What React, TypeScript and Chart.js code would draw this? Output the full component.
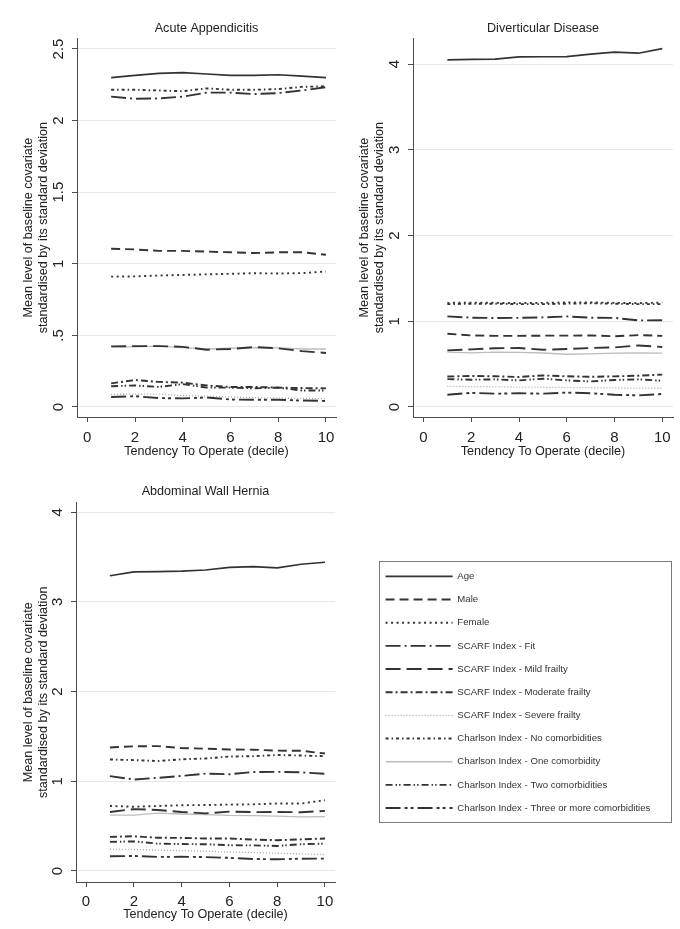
import React, { useEffect, useRef } from "react";
import { Chart, registerables } from "chart.js";

Chart.register(...registerables);

const FONT = "'Liberation Sans', Arial, Helvetica, sans-serif";
Chart.defaults.font.family = FONT;

// ---------------- data ----------------
const deciles = [1, 2, 3, 4, 5, 6, 7, 8, 9, 10];
const xTickValues = [0, 2, 4, 6, 8, 10];
const appendicitisYTicks = [0, 0.5, 1, 1.5, 2, 2.5];
const diverticularYTicks = [0, 1, 2, 3, 4];
const herniaYTicks = [0, 1, 2, 3, 4];

const seriesNames = [
  "Age",
  "Male",
  "Female",
  "SCARF Index - Fit",
  "SCARF Index - Mild frailty",
  "SCARF Index - Moderate frailty",
  "SCARF Index - Severe frailty",
  "Charlson Index - No comorbidities",
  "Charlson Index - One comorbidity",
  "Charlson Index - Two comorbidities",
  "Charlson Index - Three or more comorbidities",
];

const panelTitles = ["Acute Appendicitis", "Diverticular Disease", "Abdominal Wall Hernia"];
const xAxisTitle = "Tendency To Operate (decile)";
const yAxisTitle = ["Mean level of baseline covariate", "standardised by its standard deviation"];

// Acute Appendicitis
const appAge = [2.3, 2.315, 2.33, 2.335, 2.325, 2.315, 2.315, 2.32, 2.31, 2.3];
const appMale = [1.105, 1.1, 1.09, 1.09, 1.085, 1.08, 1.075, 1.08, 1.08, 1.063];
const appFemale = [0.91, 0.912, 0.918, 0.922, 0.926, 0.93, 0.934, 0.932, 0.935, 0.946];
const appFit = [2.167, 2.152, 2.155, 2.167, 2.195, 2.195, 2.185, 2.192, 2.21, 2.233];
const appMild = [0.423, 0.425, 0.425, 0.42, 0.4, 0.405, 0.418, 0.41, 0.39, 0.377];
const appModerate = [0.165, 0.188, 0.175, 0.17, 0.15, 0.14, 0.14, 0.135, 0.132, 0.13];
const appSevere = [0.088, 0.09, 0.09, 0.08, 0.075, 0.07, 0.065, 0.062, 0.06, 0.058];
const appNoComorb = [2.215, 2.215, 2.21, 2.205, 2.225, 2.215, 2.215, 2.22, 2.235, 2.24];
const appOneComorb = [0.42, 0.42, 0.425, 0.415, 0.405, 0.41, 0.415, 0.412, 0.405, 0.405];
const appTwoComorb = [0.145, 0.15, 0.14, 0.16, 0.135, 0.135, 0.13, 0.135, 0.115, 0.115];
const appThreeComorb = [0.07, 0.075, 0.062, 0.06, 0.066, 0.052, 0.05, 0.05, 0.045, 0.042];

// Diverticular Disease
const divAge = [4.05, 4.055, 4.058, 4.085, 4.087, 4.089, 4.117, 4.14, 4.128, 4.182];
const divMale = [0.855, 0.835, 0.83, 0.83, 0.832, 0.832, 0.835, 0.825, 0.838, 0.83];
const divFemale = [1.215, 1.218, 1.215, 1.212, 1.215, 1.22, 1.22, 1.215, 1.212, 1.218];
const divFit = [1.057, 1.042, 1.038, 1.04, 1.045, 1.057, 1.042, 1.04, 1.01, 1.012];
const divMild = [0.66, 0.672, 0.685, 0.688, 0.668, 0.676, 0.688, 0.695, 0.718, 0.7];
const divModerate = [0.355, 0.362, 0.358, 0.35, 0.368, 0.358, 0.352, 0.357, 0.365, 0.378];
const divSevere = [0.24, 0.238, 0.235, 0.232, 0.23, 0.228, 0.225, 0.222, 0.22, 0.218];
const divNoComorb = [1.2, 1.205, 1.205, 1.2, 1.2, 1.205, 1.21, 1.205, 1.2, 1.2];
const divOneComorb = [0.64, 0.632, 0.64, 0.638, 0.63, 0.615, 0.62, 0.628, 0.632, 0.628];
const divTwoComorb = [0.325, 0.318, 0.322, 0.31, 0.33, 0.31, 0.298, 0.315, 0.322, 0.306];
const divThreeComorb = [0.143, 0.165, 0.155, 0.16, 0.155, 0.168, 0.16, 0.143, 0.135, 0.152];

// Abdominal Wall Hernia
const herAge = [3.292, 3.335, 3.337, 3.343, 3.356, 3.384, 3.393, 3.38, 3.42, 3.442];
const herMale = [1.377, 1.39, 1.392, 1.37, 1.363, 1.355, 1.352, 1.342, 1.34, 1.31];
const herFemale = [0.725, 0.716, 0.724, 0.733, 0.735, 0.74, 0.743, 0.752, 0.752, 0.789];
const herFit = [1.057, 1.02, 1.038, 1.06, 1.085, 1.078, 1.103, 1.105, 1.1, 1.083];
const herMild = [0.658, 0.69, 0.68, 0.658, 0.642, 0.662, 0.656, 0.658, 0.655, 0.67];
const herModerate = [0.38, 0.387, 0.37, 0.369, 0.362, 0.362, 0.35, 0.343, 0.352, 0.362];
const herSevere = [0.242, 0.24, 0.232, 0.228, 0.22, 0.212, 0.205, 0.198, 0.19, 0.183];
const herNoComorb = [1.243, 1.236, 1.226, 1.245, 1.254, 1.276, 1.28, 1.293, 1.287, 1.28];
const herOneComorb = [0.622, 0.622, 0.645, 0.635, 0.628, 0.62, 0.618, 0.612, 0.603, 0.605];
const herTwoComorb = [0.324, 0.33, 0.305, 0.3, 0.298, 0.287, 0.285, 0.279, 0.298, 0.305];
const herThreeComorb = [0.164, 0.167, 0.157, 0.158, 0.155, 0.146, 0.134, 0.13, 0.137, 0.138];

const appendicitisSeries = [appAge, appMale, appFemale, appFit, appMild, appModerate, appSevere, appNoComorb, appOneComorb, appTwoComorb, appThreeComorb];
const diverticularSeries = [divAge, divMale, divFemale, divFit, divMild, divModerate, divSevere, divNoComorb, divOneComorb, divTwoComorb, divThreeComorb];
const herniaSeries = [herAge, herMale, herFemale, herFit, herMild, herModerate, herSevere, herNoComorb, herOneComorb, herTwoComorb, herThreeComorb];

const panelSeries = [appendicitisSeries, diverticularSeries, herniaSeries];
const panelYTicks = [appendicitisYTicks, diverticularYTicks, herniaYTicks];

// ---------------- styles / layout ----------------
const DARK = "#333333";
const seriesStyles = [
  { color: DARK, width: 1.7, dash: [] as number[] },
  { color: DARK, width: 1.9, dash: [9, 5] },
  { color: DARK, width: 1.9, dash: [2, 3.5] },
  { color: DARK, width: 1.9, dash: [15, 4, 2, 4] },
  { color: DARK, width: 1.9, dash: [15, 6] },
  { color: DARK, width: 1.9, dash: [7, 3, 2, 3] },
  { color: "#a8a8a8", width: 1.3, dash: [1, 2] },
  { color: DARK, width: 1.9, dash: [3, 3, 1.5, 3] },
  { color: "#bdbdbd", width: 1.3, dash: [] as number[] },
  { color: DARK, width: 1.9, dash: [7, 3, 1.5, 2, 1.5, 3] },
  { color: DARK, width: 1.9, dash: [15, 4, 3, 3, 3, 4] },
];

const panelLayouts = [
  { left: 0, top: 0, width: 340, height: 460, yWidth: 77, xHeight: 43, right: 4, titleTop: 21.4, titleBottom: 1.7, yTickPad: 3, xTickPad: 8.2, xTitleBottom: 1.7, yMin: -0.07, yMax: 2.575, xMin: -0.43, xMax: 10.42 },
  { left: 336, top: 0, width: 344, height: 460, yWidth: 77, xHeight: 43, right: 7, titleTop: 21.4, titleBottom: 1.7, yTickPad: 9.2, xTickPad: 8.2, xTitleBottom: 1.7, yMin: -0.117, yMax: 4.303, xMin: -0.44, xMax: 10.45 },
  { left: 0, top: 460, width: 340, height: 469, yWidth: 76, xHeight: 47, right: 5, titleTop: 24.4, titleBottom: 3.1, yTickPad: 9.2, xTickPad: 7.5, xTitleBottom: 7.7, yMin: -0.123, yMax: 4.107, xMin: -0.42, xMax: 10.42 },
];

const legendLayout = { left: 372, top: 558, width: 308, height: 280 };
const legendBox = { left: 379, top: 561, width: 293, height: 262 };

const TEXT = "#222";
const AXIS = "#4a4a4a";

const formatTick = (v: number) => (v > 0 && v < 1 ? String(v).replace(/^0/, "") : String(v));

function PanelChart({ index }: { index: number }) {
  const ref = useRef<HTMLCanvasElement | null>(null);
  const lay = panelLayouts[index];
  useEffect(() => {
    const values = panelSeries[index];
    const yTicks = panelYTicks[index];
    const chart = new Chart(ref.current as HTMLCanvasElement, {
      type: "line",
      data: {
        datasets: seriesNames.map((name, i) => ({
          label: name,
          data: deciles.map((d, j) => ({ x: d, y: values[i][j] })),
          borderColor: seriesStyles[i].color,
          backgroundColor: seriesStyles[i].color,
          borderWidth: seriesStyles[i].width,
          borderDash: seriesStyles[i].dash,
          pointRadius: 0,
          pointHoverRadius: 0,
          fill: false,
          tension: 0,
        })),
      },
      options: {
        responsive: false,
        animation: false,
        events: [],
        layout: { padding: { left: 0, right: lay.right, top: 0, bottom: 0 } },
        plugins: {
          legend: { display: false },
          tooltip: { enabled: false },
          title: {
            display: true,
            text: panelTitles[index],
            fullSize: false,
            color: TEXT,
            font: { family: FONT, size: 12.6, weight: "normal", lineHeight: 1.2 },
            padding: { top: lay.titleTop, bottom: lay.titleBottom },
          },
        },
        scales: {
          x: {
            type: "linear",
            min: lay.xMin,
            max: lay.xMax,
            afterBuildTicks: (s: any) => {
              s.ticks = xTickValues.map((v) => ({ value: v }));
            },
            afterFit: (s: any) => {
              s.height = lay.xHeight;
              s.paddingLeft = 0;
              s.paddingRight = 0;
            },
            grid: { drawOnChartArea: false, drawTicks: true, tickLength: 5, tickColor: AXIS, tickWidth: 1 },
            border: { display: true, color: AXIS, width: 1 },
            ticks: {
              autoSkip: false,
              maxRotation: 0,
              minRotation: 0,
              color: TEXT,
              padding: lay.xTickPad,
              font: { family: FONT, size: 15, lineHeight: 1 },
              callback: (v: any) => formatTick(Number(v)),
            },
            title: {
              display: true,
              text: xAxisTitle,
              color: TEXT,
              font: { family: FONT, size: 12.6, lineHeight: 1 },
              padding: { top: 0, bottom: lay.xTitleBottom },
            },
          },
          y: {
            type: "linear",
            min: lay.yMin,
            max: lay.yMax,
            afterBuildTicks: (s: any) => {
              s.ticks = yTicks.map((v) => ({ value: v }));
            },
            afterFit: (s: any) => {
              s.width = lay.yWidth;
              s.paddingTop = 0;
              s.paddingBottom = 0;
            },
            grid: { color: "#e8e8e8", lineWidth: 1, drawTicks: true, tickLength: 5, tickColor: AXIS, tickWidth: 1 },
            border: { display: true, color: AXIS, width: 1 },
            ticks: {
              autoSkip: false,
              minRotation: 90,
              maxRotation: 90,
              crossAlign: "center",
              color: TEXT,
              padding: lay.yTickPad,
              font: { family: FONT, size: 15, lineHeight: 1 },
              callback: (v: any) => formatTick(Number(v)),
            },
            title: {
              display: true,
              text: yAxisTitle,
              color: TEXT,
              font: { family: FONT, size: 12.6, lineHeight: 1.2 },
              padding: { top: 20.9, bottom: 0 },
            },
          },
        },
      } as any,
    });
    return () => chart.destroy();
  }, [index]);
  return (
    <canvas
      ref={ref}
      width={lay.width}
      height={lay.height}
      style={{ position: "absolute", left: lay.left, top: lay.top, width: lay.width, height: lay.height }}
    />
  );
}

function LegendChart() {
  const ref = useRef<HTMLCanvasElement | null>(null);
  useEffect(() => {
    const chart = new Chart(ref.current as HTMLCanvasElement, {
      type: "line",
      data: {
        datasets: seriesNames.map((name, i) => ({
          label: name,
          data: [] as number[],
          borderColor: seriesStyles[i].color,
          backgroundColor: seriesStyles[i].color,
          borderWidth: seriesStyles[i].width,
          borderDash: seriesStyles[i].dash,
          pointRadius: 0,
        })),
      },
      options: {
        responsive: false,
        animation: false,
        events: [],
        layout: { padding: 0 },
        scales: { x: { display: false }, y: { display: false } },
        plugins: {
          tooltip: { enabled: false },
          title: { display: false },
          legend: {
            display: true,
            position: "chartArea",
            align: "start",
            labels: {
              usePointStyle: true,
              pointStyle: "line",
              pointStyleWidth: 67,
              boxHeight: 9.6,
              padding: 13.57,
              color: "#333",
              font: { family: FONT, size: 9.6 },
              generateLabels: (c: any) =>
                c.data.datasets.map((ds: any, i: number) => ({
                  text: ds.label,
                  datasetIndex: i,
                  hidden: false,
                  fillStyle: ds.borderColor,
                  strokeStyle: ds.borderColor,
                  lineDash: ds.borderDash,
                  lineWidth: ds.borderWidth,
                  lineCap: "butt",
                  pointStyle: "line",
                  fontColor: "#333",
                })),
            },
          },
        },
      } as any,
    });
    return () => chart.destroy();
  }, []);
  return (
    <canvas
      ref={ref}
      width={legendLayout.width}
      height={legendLayout.height}
      style={{ position: "absolute", left: legendLayout.left, top: legendLayout.top, width: legendLayout.width, height: legendLayout.height }}
    />
  );
}

export default function App() {
  return (
    <div style={{ position: "absolute", left: 0, top: 0, width: 680, height: 929, background: "#fff", overflow: "hidden" }}>
      <div
        style={{
          position: "absolute",
          left: legendBox.left,
          top: legendBox.top,
          width: legendBox.width,
          height: legendBox.height,
          border: "1px solid #7a7a7a",
          boxSizing: "border-box",
        }}
      />
      <PanelChart index={0} />
      <PanelChart index={1} />
      <PanelChart index={2} />
      <LegendChart />
    </div>
  );
}
